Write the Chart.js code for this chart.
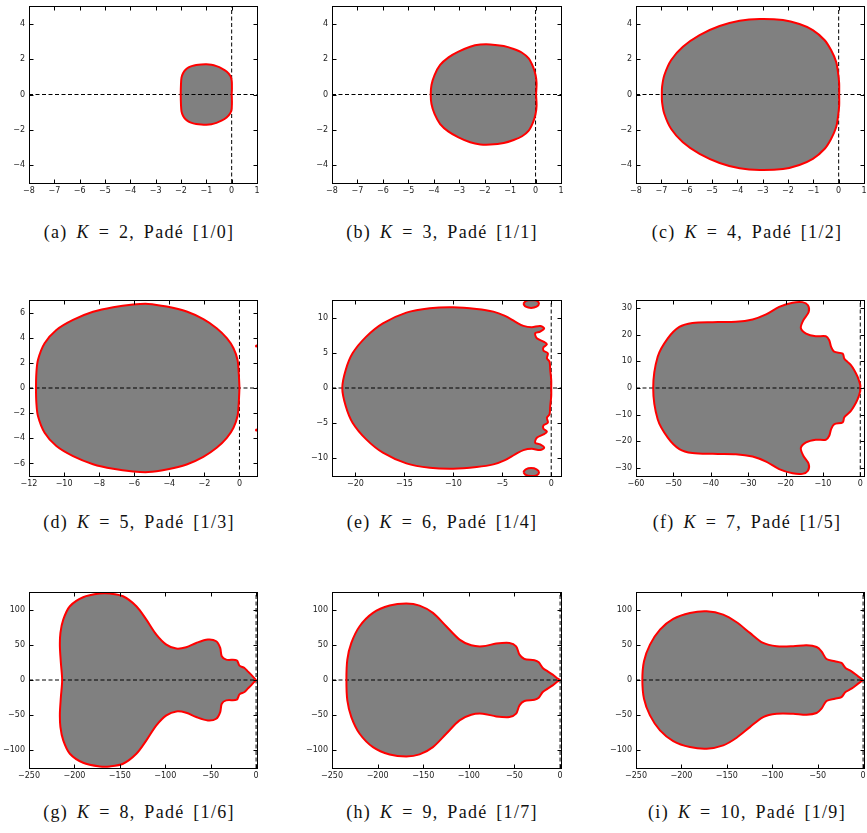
<!DOCTYPE html>
<html><head><meta charset="utf-8">
<script src="https://cdn.jsdelivr.net/npm/chart.js@4.4.1/dist/chart.umd.min.js"></script>
<style>
html,body{margin:0;padding:0;background:#fff;}
body{width:867px;height:833px;position:relative;overflow:hidden;}
canvas{position:absolute;}
.cap{position:absolute;width:300px;text-align:center;font-family:"Liberation Serif",serif;font-size:18px;letter-spacing:1.3px;word-spacing:3px;line-height:20px;color:#111;white-space:nowrap;}
.cap .q{display:inline-block;width:9px;}
</style></head><body>
<script>
// ---------- captions ----------
const captionLetters = ['a','b','c','d','e','f','g','h','i'];
const captionK = [2,3,4,5,6,7,8,9,10];
const captionPade = ['[1/0]','[1/1]','[1/2]','[1/3]','[1/4]','[1/5]','[1/6]','[1/7]','[1/9]'];

// ---------- axis ranges and ticks ----------
const xRangeSmall = [-8, 1], yRangeSmall = [-5, 5];
const xTicksSmall = [-8,-7,-6,-5,-4,-3,-2,-1,0,1], yTicksSmall = [-4,-2,0,2,4];
const xRangeD = [-12, 1], yRangeD = [-7, 7];
const xTicksD = [-12,-10,-8,-6,-4,-2,0], yTicksD = [-6,-4,-2,0,2,4,6];
const xRangeE = [-22.4, 1], yRangeE = [-12.5, 12.5];
const xTicksE = [-20,-15,-10,-5,0], yTicksE = [-10,-5,0,5,10];
const xRangeF = [-60, 1], yRangeF = [-33, 33];
const xTicksF = [-60,-50,-40,-30,-20,-10,0], yTicksF = [-30,-20,-10,0,10,20,30];
const xRangeBig = [-250, 1], yRangeBig = [-125, 125];
const xTicksBig = [-250,-200,-150,-100,-50,0], yTicksBig = [-100,-50,0,50,100];

// ---------- stability-region boundaries (upper half) ----------
const aX = [0, 0.01, 0, -0.05, -0.2, -0.4, -0.6, -0.8, -1.0, -1.2, -1.4, -1.55, -1.7, -1.82, -1.92, -1.98, -2.0, -2.01];
const aY = [0, 0.4, 0.8, 1.05, 1.3, 1.48, 1.6, 1.68, 1.71, 1.7, 1.67, 1.62, 1.53, 1.4, 1.2, 0.95, 0.6, 0];

const bX = [0.02, 0.04, 0, -0.1, -0.27, -0.53, -0.86, -1.25, -1.78, -2.17, -2.57, -3.03, -3.42, -3.75, -3.97, -4.09, -4.12];
const bY = [0, 0.63, 1.1, 1.57, 2.04, 2.36, 2.57, 2.74, 2.83, 2.82, 2.70, 2.42, 2.10, 1.67, 1.10, 0.54, 0];

const cX = [0.02, 0.02, -0.03, -0.1, -0.3, -0.56, -1.02, -1.55, -2.2, -3.12, -3.91, -4.7, -5.49, -6.15, -6.61, -6.88, -6.97, -6.98];
const cY = [0, 0.63, 1.29, 1.85, 2.51, 3.08, 3.64, 3.98, 4.21, 4.27, 4.17, 3.87, 3.36, 2.70, 1.95, 1.10, 0.44, 0];

const dX = [0, -0.04, -0.11, -0.34, -0.72, -1.3, -2.06, -3.01, -4.15, -5.2, -6.06, -7.2, -8.35, -9.49, -10.44, -11.11, -11.49, -11.58, -11.6];
const dY = [0, 1.17, 2.23, 3.16, 3.96, 4.75, 5.47, 6.08, 6.48, 6.69, 6.64, 6.43, 6.06, 5.42, 4.62, 3.56, 2.23, 1.17, 0];
const dDotsX = [0.97, 0.97];
const dDotsY = [3.35, -3.35];

const eX = [0, 0, -0.1, -0.17, -0.44, -0.34, -0.79, -0.79, -0.44, -0.79, -1.47, -1.64, -1.13, -0.72, -1.13, -1.98, -2.84, -3.69, -4.72, -5.91, -7.62, -10.02, -12.41, -14.8, -17.2, -18.9, -20.3, -21.0, -21.35];
const eY = [0, 1.14, 2.56, 3.74, 4.22, 4.93, 5.31, 5.78, 6.21, 6.59, 7.06, 7.77, 8.01, 8.48, 8.82, 8.63, 8.82, 9.43, 10.24, 10.85, 11.23, 11.47, 11.33, 10.71, 9.19, 7.3, 4.93, 2.56, 0];
const eIslandX = [-2.85, -2.6, -2.05, -1.5, -1.25, -1.5, -2.05, -2.6, -2.85];
const eIslandY = [11.95, 12.35, 12.5, 12.4, 12.0, 11.55, 11.38, 11.55, 11.95];

const fX = [0, 0, -0.7, -1.6, -2.5, -3.4, -4.3, -4.7, -7.0, -7.8, -8.3, -9.2, -11.9, -14.5, -15.9, -15.2, -13.8, -14.0, -15.5, -18.1, -21.7, -25.2, -28.8, -33.3, -39.5, -44.9, -48.4, -51.5, -54.2, -55.4];
const fY = [0, 1.1, 4.2, 6.7, 8.6, 9.8, 11.1, 12.9, 13.6, 15.4, 17.9, 19.4, 19.4, 20.4, 22.5, 25.5, 28.5, 31.0, 32.2, 32.0, 30.4, 27.6, 25.7, 24.8, 24.7, 24.4, 22.9, 18.6, 11.7, 0];

const gX = [0, -5.5, -9.2, -12.8, -18.3, -21.3, -32.9, -37.8, -39.5, -43.9, -53.1, -65.9, -76.9, -87.8, -98.8, -109.8, -120.8, -131.8, -146.5, -161, -172, -190.4, -205, -212.3, -215.4, -216, -214.9, -213.5];
const gY = [0, 7.6, 12.3, 17.1, 20.4, 28, 28.9, 33.7, 45.5, 55.0, 57.4, 52.6, 46.5, 44.6, 50.3, 64.5, 85.8, 104.8, 119, 122.8, 122.8, 117.6, 104.8, 85.8, 66.9, 47.9, 24.2, 0];

const hX = [0, -3.6, -8.1, -13.6, -19, -23.4, -28.1, -39.1, -44.5, -48.2, -55.5, -70, -84.7, -97.4, -110.2, -124.8, -139.4, -154, -168.6, -186.8, -205.1, -219.7, -228.8, -233.2, -234.2];
const hY = [0, 2.8, 7.6, 12.3, 17.1, 25.1, 28, 29.9, 36, 47.9, 52.6, 51.7, 47.9, 49.3, 57.4, 76.3, 95.3, 105.7, 108.6, 105.7, 95.3, 76.3, 52.6, 28.9, 0];

const iX = [0, -5.5, -12.8, -19.4, -23.8, -31.1, -40.3, -45.8, -51.2, -62.2, -77, -95.2, -110, -124.6, -139.2, -154, -172.2, -190.6, -209, -223.6, -234.6, -241.2, -243];
const iY = [0, 5.2, 12.3, 17.1, 24.2, 26.6, 29.9, 40.8, 46.9, 49.3, 47.9, 47.9, 52.6, 66.9, 82, 92.9, 97.7, 95.3, 86.8, 71.6, 50.3, 26.6, 0];

// ---------- helpers ----------
function toPts(xs, ys, sign) { return xs.map((x, k) => ({x: x, y: sign * ys[k]})); }
function closeContour(xs, ys) {
  const up = toPts(xs, ys, 1);
  const low = [];
  for (let k = xs.length - 2; k >= 0; k--) low.push({x: xs[k], y: -ys[k]});
  return up.concat(low);
}
const fmt = v => (v < 0 ? '\u2212' + Math.abs(v) : String(v));

const panels = [
  {X:aX, Y:aY, xr:xRangeSmall, yr:yRangeSmall, xt:xTicksSmall, yt:yTicksSmall},
  {X:bX, Y:bY, xr:xRangeSmall, yr:yRangeSmall, xt:xTicksSmall, yt:yTicksSmall},
  {X:cX, Y:cY, xr:xRangeSmall, yr:yRangeSmall, xt:xTicksSmall, yt:yTicksSmall},
  {X:dX, Y:dY, xr:xRangeD, yr:yRangeD, xt:xTicksD, yt:yTicksD, dots:true},
  {X:eX, Y:eY, xr:xRangeE, yr:yRangeE, xt:xTicksE, yt:yTicksE, islands:true},
  {X:fX, Y:fY, xr:xRangeF, yr:yRangeF, xt:xTicksF, yt:yTicksF},
  {X:gX, Y:gY, xr:xRangeBig, yr:yRangeBig, xt:xTicksBig, yt:yTicksBig},
  {X:hX, Y:hY, xr:xRangeBig, yr:yRangeBig, xt:xTicksBig, yt:yTicksBig},
  {X:iX, Y:iY, xr:xRangeBig, yr:yRangeBig, xt:xTicksBig, yt:yTicksBig}
];

const colLeft = [29, 332, 636], colRight = [257, 561, 864];
const rowTop = [6, 300, 592], rowBottom = [183, 476, 768];
const capCX = [139, 442, 747], capCY = [231.5, 521.5, 811.5];

const frameTicks = {
  id: 'frameTicks',
  afterDatasetsDraw(chart) {
    const {ctx, chartArea: a, scales} = chart;
    const x = scales.x, y = scales.y;
    const L = Math.round(a.left) + 0.5, R = Math.round(a.right) + 0.5;
    const T = Math.round(a.top) + 0.5, B = Math.round(a.bottom) + 0.5;
    ctx.save();
    ctx.strokeStyle = '#000';
    ctx.lineWidth = 1;
    ctx.setLineDash([]);
    ctx.beginPath();
    x.ticks.forEach(t => {
      const px = Math.round(x.getPixelForValue(t.value)) + 0.5;
      ctx.moveTo(px, B); ctx.lineTo(px, B - 4);
      ctx.moveTo(px, T); ctx.lineTo(px, T + 4);
    });
    y.ticks.forEach(t => {
      const py = Math.round(y.getPixelForValue(t.value)) + 0.5;
      ctx.moveTo(L, py); ctx.lineTo(L + 4, py);
      ctx.moveTo(R, py); ctx.lineTo(R - 4, py);
    });
    ctx.stroke();
    ctx.strokeRect(L, T, R - L, B - T);
    ctx.restore();
  }
};

panels.forEach((p, idx) => {
  const col = idx % 3, row = Math.floor(idx / 3);
  const L = colLeft[col], R = colRight[col], T = rowTop[row], B = rowBottom[row];
  const padL = 34, padT = 6, padR = 5, padB = 22;
  const c = document.createElement('canvas');
  c.width = R - L + padL + padR;
  c.height = B - T + padT + padB;
  c.style.left = (L - padL) + 'px';
  c.style.top = (T - padT) + 'px';
  document.body.appendChild(c);

  const datasets = [
    {label: 'region', data: closeContour(p.X, p.Y), showLine: true, fill: 'shape',
     backgroundColor: '#808080', borderColor: '#ff0000', borderWidth: 2, pointRadius: 0, tension: 0.3, order: 0},
    {label: 'y0', data: [{x: p.xr[0], y: 0}, {x: p.xr[1], y: 0}], showLine: true, fill: false,
     borderColor: '#000', borderWidth: 1, borderDash: [4, 2.5], pointRadius: 0, order: 1},
    {label: 'x0', data: [{x: 0, y: p.yr[0]}, {x: 0, y: p.yr[1]}], showLine: true, fill: false,
     borderColor: '#000', borderWidth: 1, borderDash: [4, 2.5], pointRadius: 0, order: 1}
  ];
  if (p.islands) {
    datasets.push({label: 'islandTop', data: toPts(eIslandX, eIslandY, 1), showLine: true, fill: 'shape',
      backgroundColor: '#808080', borderColor: '#ff0000', borderWidth: 2, pointRadius: 0, tension: 0.3, order: 0});
    datasets.push({label: 'islandBottom', data: toPts(eIslandX, eIslandY, -1), showLine: true, fill: 'shape',
      backgroundColor: '#808080', borderColor: '#ff0000', borderWidth: 2, pointRadius: 0, tension: 0.3, order: 0});
  }
  if (p.dots) {
    datasets.push({label: 'dots', data: toPts(dDotsX, dDotsY, 1), showLine: false,
      pointRadius: 1.5, pointBackgroundColor: '#ff0000', pointBorderColor: '#ff0000', pointBorderWidth: 0, order: 0});
  }

  new Chart(c, {
    type: 'scatter',
    data: {datasets},
    options: {
      responsive: false, animation: false, devicePixelRatio: 1, events: [],
      layout: {padding: {left: 0, top: padT, right: padR, bottom: 0}},
      plugins: {legend: {display: false}, tooltip: {enabled: false},
                filler: {drawTime: 'beforeDatasetsDraw', propagate: false}},
      scales: {
        x: {type: 'linear', position: 'bottom', min: p.xr[0], max: p.xr[1],
            grid: {display: false, drawTicks: false}, border: {display: false},
            ticks: {autoSkip: false, maxRotation: 0, padding: 3, color: '#222',
                    font: {family: 'DejaVu Sans', size: 8}, callback: v => fmt(v)},
            afterBuildTicks: s => { s.ticks = p.xt.map(v => ({value: v})); },
            afterFit: s => { s.height = padB; s.paddingLeft = 0; s.paddingRight = 0; }},
        y: {type: 'linear', position: 'left', min: p.yr[0], max: p.yr[1],
            grid: {display: false, drawTicks: false}, border: {display: false},
            ticks: {autoSkip: false, padding: 4, color: '#222',
                    font: {family: 'DejaVu Sans', size: 8}, callback: v => fmt(v)},
            afterBuildTicks: s => { s.ticks = p.yt.map(v => ({value: v})); },
            afterFit: s => { s.width = padL; s.paddingTop = 0; s.paddingBottom = 0; }}
      }
    },
    plugins: [frameTicks]
  });

  const cap = document.createElement('div');
  cap.className = 'cap';
  cap.style.left = (capCX[col] - 150) + 'px';
  cap.style.top = (capCY[row] - 10) + 'px';
  cap.innerHTML = '(' + captionLetters[idx] + ')<span class="q"></span><i>K</i> = ' + captionK[idx] + ', Padé ' + captionPade[idx];
  document.body.appendChild(cap);
});
</script>
</body></html>
